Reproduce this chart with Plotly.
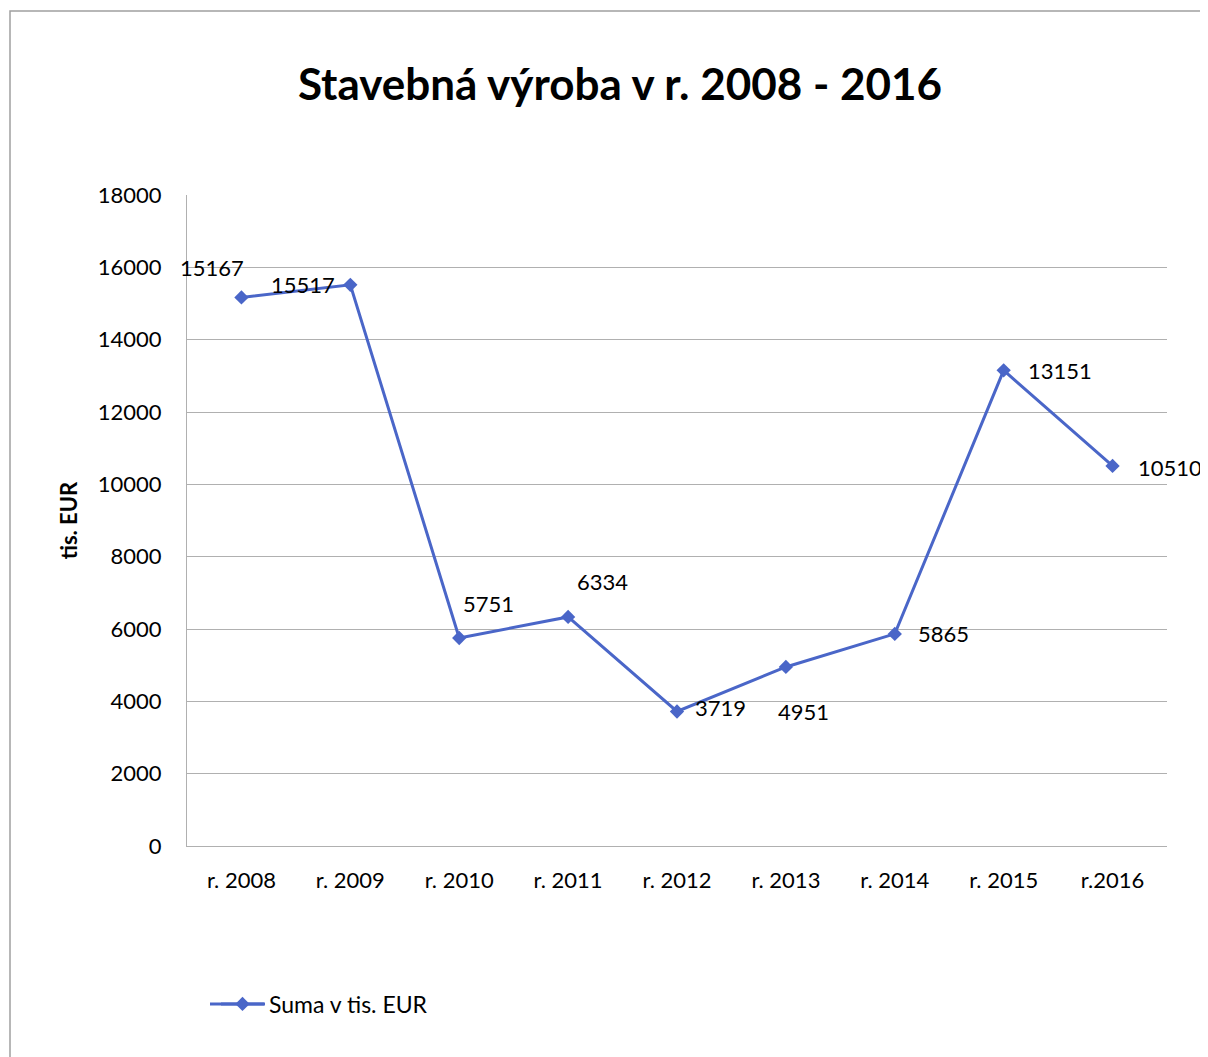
import plotly.graph_objects as go

categories = ["r. 2008", "r. 2009", "r. 2010", "r. 2011", "r. 2012", "r. 2013", "r. 2014", "r. 2015", "r.2016"]
values = [15167, 15517, 5751, 6334, 3719, 4951, 5865, 13151, 10510]
y_ticks = [0, 2000, 4000, 6000, 8000, 10000, 12000, 14000, 16000, 18000]

# label offsets in pixels (style only)
label_offsets = [(-29, 30), (-47, 0), (29, 35), (34, 35), (43, 4), (18, -45), (49, 0), (56, 0), (57, -2)]

# page has an 8px body margin; work in screen pixels and subtract it
OFF = 8
SW, SH = 1208, 1057
W, H = SW - OFF, SH - OFF
PL, PR, PT, PB = 187, 1167, 195, 846  # plot area in screen px
L, R, T, B = PL - OFF, SW - PR, PT - OFF, SH - PB
pw, ph = PR - PL, PB - PT

FONT = "Lato"
line_color = "#4A66C8"

fig = go.Figure()
fig.add_trace(go.Scatter(
    x=categories, y=values, mode="lines+markers",
    name="Suma v tis. EUR",
    line=dict(color=line_color, width=3),
    marker=dict(symbol="diamond", size=11, color=line_color),
))

for c, v, (dx, dy) in zip(categories, values, label_offsets):
    fig.add_annotation(x=c, y=v, text=str(v), showarrow=False,
                       xshift=dx, yshift=dy,
                       font=dict(family=FONT, size=22, color="#000000"))

def px_x(p):
    return (p - PL) / pw

def px_y(p):
    return (PB - p) / ph

# chart border
fig.add_shape(type="rect", xref="paper", yref="paper",
              x0=px_x(10), x1=px_x(1240), y0=px_y(1090), y1=px_y(11),
              line=dict(color="#A0A0A0", width=1.5), fillcolor="rgba(0,0,0,0)", layer="below")
# longer legend line (Excel-style legend key)
fig.add_shape(type="line", xref="paper", yref="paper",
              x0=px_x(210), x1=px_x(265), y0=px_y(1004), y1=px_y(1004),
              line=dict(color=line_color, width=3))

fig.update_layout(
    width=W, height=H,
    margin=dict(l=L, r=R, t=T, b=B),
    paper_bgcolor="white", plot_bgcolor="white",
    font=dict(family=FONT, size=22, color="#000000"),
    title=dict(text="<b>Stavebná výroba v r. 2008 - 2016</b>",
               x=(620 - OFF) / W, xref="container", xanchor="center",
               y=1 - (85 - OFF) / H, yref="container", yanchor="middle",
               font=dict(family=FONT, size=44, color="#000000")),
    showlegend=True,
    legend=dict(orientation="h", x=px_x(216), y=px_y(1004), xanchor="left", yanchor="middle",
                itemwidth=43,
                font=dict(family=FONT, size=23), bgcolor="rgba(0,0,0,0)"),
    xaxis=dict(type="category", categoryorder="array", categoryarray=categories,
               showgrid=False, showline=True, linecolor="#B0B0B0", linewidth=1,
               ticks="", ticklabelstandoff=15, tickfont=dict(size=22),
               range=[-0.5, len(categories) - 0.5], fixedrange=True),
    yaxis=dict(range=[0, 18000], tickvals=y_ticks, ticktext=[str(t) for t in y_ticks],
               showgrid=True, gridcolor="#B0B0B0", gridwidth=1,
               showline=True, linecolor="#B0B0B0", linewidth=1,
               zeroline=False, ticks="", ticklabelstandoff=20,
               tickfont=dict(size=22),
               title=dict(text="<b>tis. EUR</b>", font=dict(family=FONT, size=22), standoff=14)),
)

fig.write_html("out.html")
